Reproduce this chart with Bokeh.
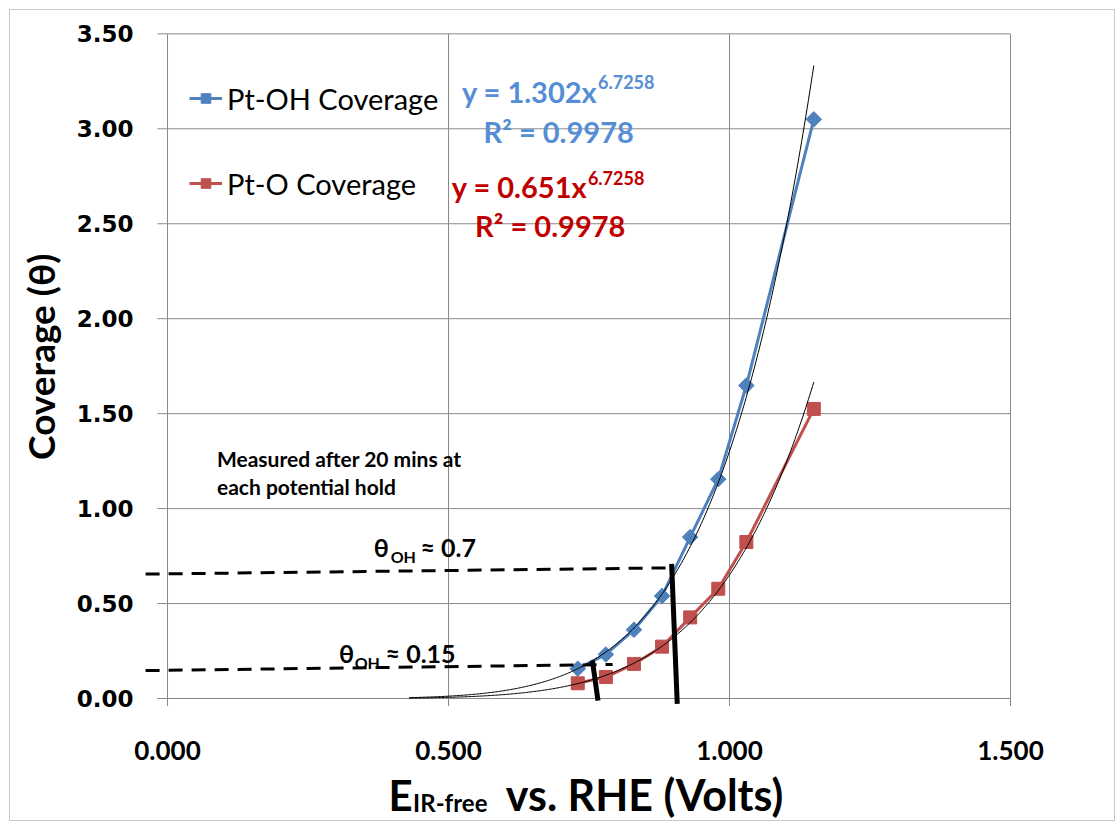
import numpy as np
from bokeh.plotting import figure
from bokeh.models import (Label, FixedTicker, NumeralTickFormatter, Legend,
                          LegendItem)
from bokeh.embed import file_html
from bokeh.resources import INLINE

# --- measured coverage vs. IR-free potential -------------------------------
potential = [0.73, 0.78, 0.83, 0.88, 0.93, 0.98, 1.03, 1.15]
pt_oh = [0.157, 0.232, 0.362, 0.540, 0.850, 1.155, 1.648, 3.050]
pt_o = [0.080, 0.113, 0.182, 0.273, 0.427, 0.578, 0.824, 1.525]

# power-law trend lines  y = a * x^b
oh_coef = 1.302
o_coef = 0.651
fit_exp = 6.7258
fit_r2 = 0.9978
trend_start, trend_end = 0.43, 1.15

x_ticks = [0.0, 0.5, 1.0, 1.5]
y_ticks = [0.0, 0.5, 1.0, 1.5, 2.0, 2.5, 3.0, 3.5]

# guide lines for the two coverage levels
dash_x0 = [-0.039, -0.039]
dash_y0 = [0.655, 0.147]
dash_x1 = [0.897, 0.792]
dash_y1 = [0.688, 0.179]
bar_x0 = [0.756, 0.897]
bar_y0 = [0.200, 0.709]
bar_x1 = [0.766, 0.907]
bar_y1 = [-0.011, -0.028]

BLUE = "#4F81BD"
RED = "#C0504D"
BLUE_TXT = "#558ED5"
RED_TXT = "#C00000"
GRID = "#898989"
FONT = "Lato"

# the frame fills the whole canvas; axes sit at x=0 / y=0 via fixed_location
p = figure(width=1106, height=812, x_range=(-0.2794, 1.6886), y_range=(-0.653, 3.623),
           output_backend="svg", toolbar_location=None, min_border=0)
p.margin = (9, 0, 0, 9)
p.styles = {"border": "1px solid #c8c8c8"}
p.outline_line_color = None
p.grid.visible = False
p.background_fill_color = "white"

for ax in (p.xaxis[0], p.yaxis[0]):
    ax.fixed_location = 0
    ax.axis_line_color = None
    ax.major_tick_line_color = None
    ax.minor_tick_line_color = None
    ax.major_label_text_font_style = "bold"
    ax.major_label_text_color = "black"

p.xaxis.ticker = FixedTicker(ticks=x_ticks)
p.xaxis.formatter = NumeralTickFormatter(format="0.000")
p.xaxis.major_label_text_font = FONT
p.xaxis.major_label_text_font_size = "26px"
p.xaxis.major_label_standoff = 37

p.yaxis.ticker = FixedTicker(ticks=y_ticks)
p.yaxis.formatter = NumeralTickFormatter(format="0.00")
p.yaxis.major_label_text_font = "DejaVu Sans"
p.yaxis.major_label_text_font_size = "23px"
p.yaxis.major_label_standoff = 28

# gridlines, axis lines and tick marks
hy = y_ticks[1:]
p.segment(x0=[0.0] * len(hy), y0=hy, x1=[1.5] * len(hy), y1=hy,
          line_color=GRID, line_width=1)
vx = x_ticks[1:]
p.segment(x0=vx, y0=[-0.04] * len(vx), x1=vx, y1=[3.5] * len(vx),
          line_color=GRID, line_width=1)
p.segment(x0=[-0.018] * len(y_ticks), y0=y_ticks, x1=[0.0] * len(y_ticks), y1=y_ticks,
          line_color=GRID, line_width=1)
p.segment(x0=[0.0, -0.018], y0=[-0.04, 0.0], x1=[0.0, 1.5], y1=[3.5, 0.0],
          line_color=GRID, line_width=1)

# data series
r_oh_line = p.line(potential, pt_oh, line_color=BLUE, line_width=3)
r_oh_pts = p.scatter(potential, pt_oh, marker="square", angle=np.pi / 4, size=11,
                     fill_color=BLUE, line_color=BLUE)
r_o_line = p.line(potential, pt_o, line_color=RED, line_width=3)
r_o_pts = p.scatter(potential, pt_o, marker="square", size=13,
                    fill_color=RED, line_color=RED)

# power-law trend lines
xs = np.linspace(trend_start, trend_end, 300)
p.line(xs, oh_coef * xs ** fit_exp, line_color="black", line_width=1)
p.line(xs, o_coef * xs ** fit_exp, line_color="black", line_width=1)

# guide lines
p.segment(x0=dash_x0, y0=dash_y0, x1=dash_x1, y1=dash_y1,
          line_color="black", line_width=3, line_dash="14 9")
p.segment(x0=bar_x0, y0=bar_y0, x1=bar_x1, y1=bar_y1,
          line_color="black", line_width=5)

legend = Legend(items=[LegendItem(label="Pt-OH Coverage", renderers=[r_oh_line, r_oh_pts]),
                       LegendItem(label="Pt-O Coverage", renderers=[r_o_line, r_o_pts])],
                location=(179, 616), margin=0, padding=0, spacing=39,
                glyph_width=33, glyph_height=24, label_height=46, label_standoff=5,
                label_text_font=FONT, label_text_font_size="29px",
                label_text_color="black",
                border_line_color=None, background_fill_alpha=0)
p.add_layout(legend)


def add_text(x, y, text, size, color="black", align="left", angle=0.0):
    # y is the vertical centre of the text line
    p.add_layout(Label(x=x, y=y, text=text, text_font=FONT, text_font_size=size,
                       text_font_style="bold", text_color=color, text_align=align,
                       text_baseline="middle", angle=angle))


# fit equations
add_text(0.765, 3.195, f"y = {oh_coef:.3f}x", "29px", BLUE_TXT, align="right")
add_text(0.766, 3.245, f"{fit_exp}", "18px", BLUE_TXT)
add_text(0.696, 2.988, f"R\u00b2 = {fit_r2}", "29px", BLUE_TXT, align="center")
add_text(0.747, 2.695, f"y = {o_coef:.3f}x", "29px", RED_TXT, align="right")
add_text(0.748, 2.740, f"{fit_exp}", "18px", RED_TXT)
add_text(0.681, 2.493, f"R\u00b2 = {fit_r2}", "29px", RED_TXT, align="center")

# notes
add_text(0.088, 1.262, "Measured after 20 mins at", "21px")
add_text(0.088, 1.115, "each potential hold", "21px")

add_text(0.367, 0.800, "\u03b8", "25px")
add_text(0.397, 0.748, "OH", "16px")
add_text(0.450, 0.800, "\u2248 0.7", "25px")
add_text(0.305, 0.2385, "\u03b8", "25px")
add_text(0.333, 0.187, "OH", "16px")
add_text(0.388, 0.2385, "\u2248 0.15", "25px")

# axis titles
add_text(-0.226, 1.796, "Coverage (\u03b8)", "37px", align="center", angle=np.pi / 2)
add_text(0.393, -0.508, "E", "42px")
add_text(0.437, -0.550, "IR-free", "24px")
add_text(0.602, -0.508, "vs. RHE (Volts)", "43px")

open("out.html", "w").write(file_html(p, INLINE))
